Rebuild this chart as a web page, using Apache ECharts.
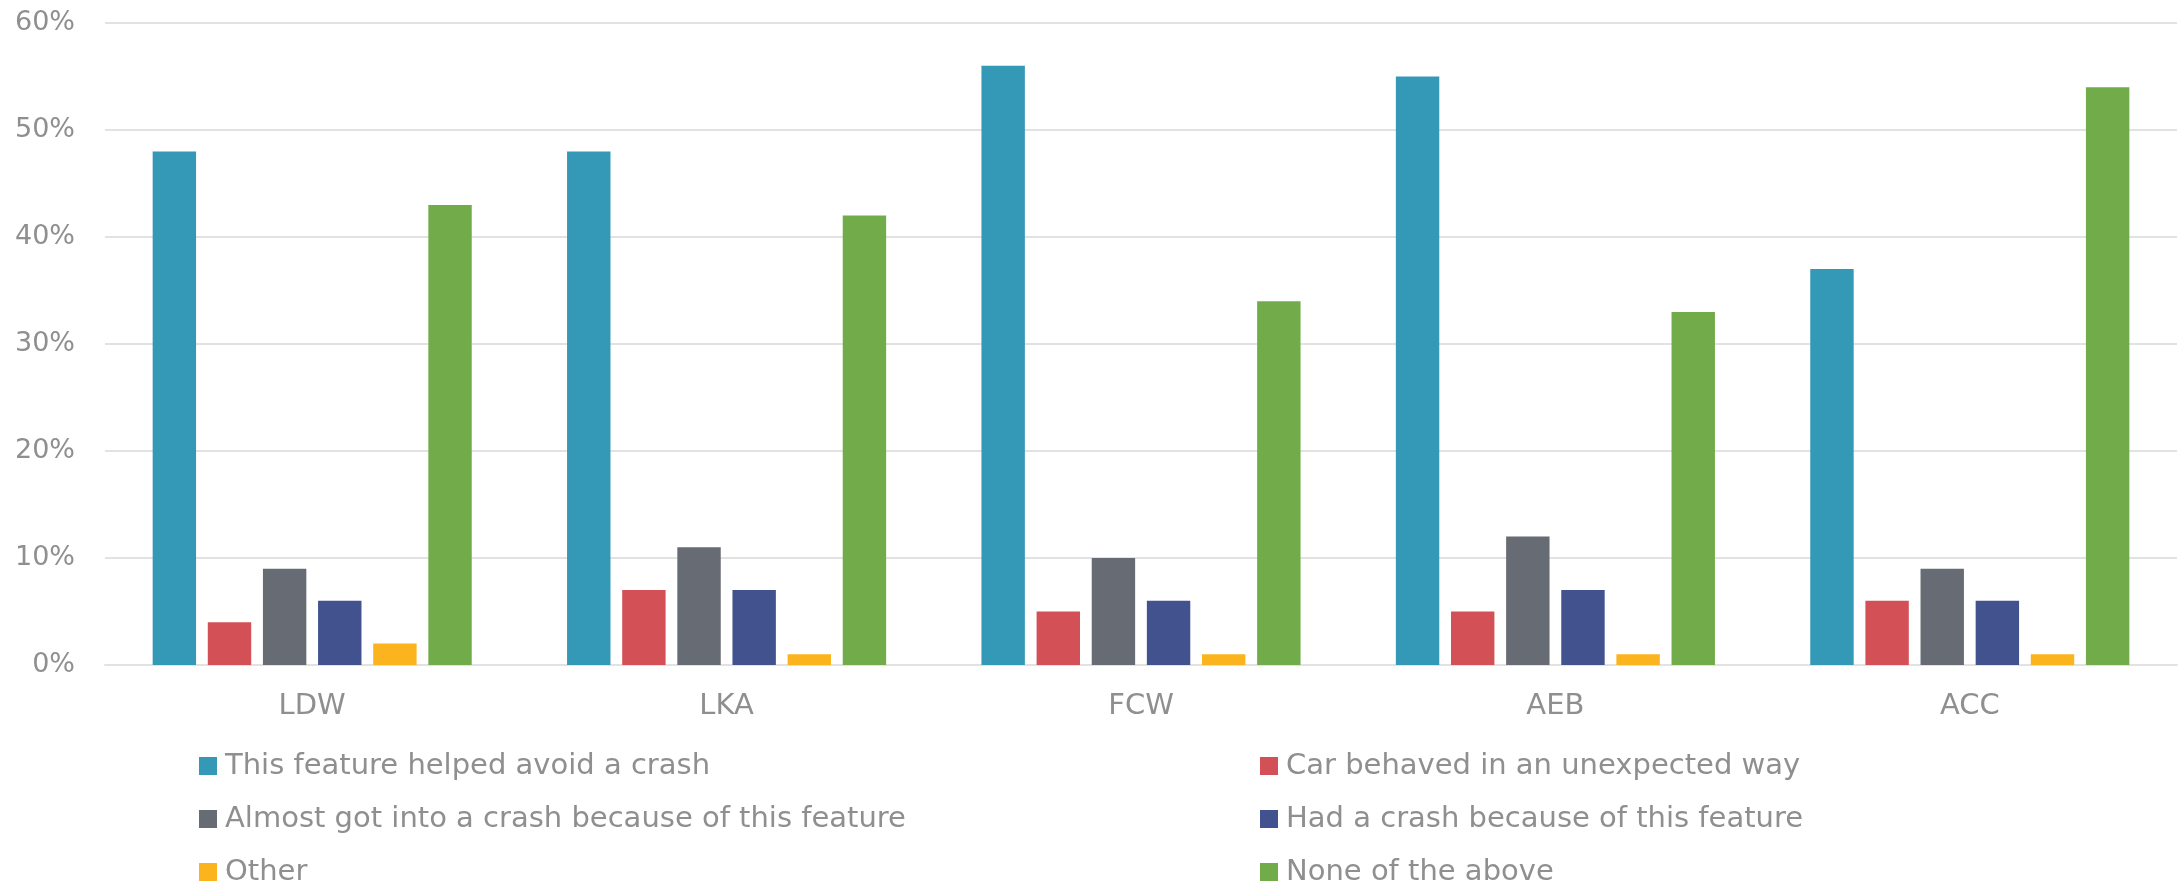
<!DOCTYPE html>
<html>
<head>
<meta charset="utf-8">
<script src="https://cdn.jsdelivr.net/npm/echarts@6/dist/echarts.min.js"></script>
<style>
  html, body { margin: 0; padding: 0; background: #fff; }
  #chart { width: 2183px; height: 884px; }
</style>
</head>
<body>
<div id="chart"></div>
<script>
const categories = ['LDW', 'LKA', 'FCW', 'AEB', 'ACC'];

const seriesNames = [
  'This feature helped avoid a crash',
  'Car behaved in an unexpected way',
  'Almost got into a crash because of this feature',
  'Had a crash because of this feature',
  'Other',
  'None of the above'
];

// values in percent, per category
const helpedAvoid = [48, 48, 56, 55, 37];
const unexpected = [4, 7, 5, 5, 6];
const almostCrash = [9, 11, 10, 12, 9];
const hadCrash = [6, 7, 6, 7, 6];
const other = [2, 1, 1, 1, 1];
const noneAbove = [43, 42, 34, 33, 54];

const yTicks = [0, 10, 20, 30, 40, 50, 60];

const colors = ['#3498b7', '#d35156', '#676b73', '#42528e', '#fbb41d', '#72ac4a'];
const textColor = '#8f8f8f';
const fontFamily = 'DejaVu Sans, sans-serif';

const chart = echarts.init(document.getElementById('chart'));

const values = [helpedAvoid, unexpected, almostCrash, hadCrash, other, noneAbove];

// legend is two columns, three rows, filled row by row
const legendCols = [199, 1260];
const legendRows = [751, 804, 857];

const legends = seriesNames.map((name, i) => ({
  data: [name],
  left: legendCols[i % 2],
  top: legendRows[Math.floor(i / 2)],
  padding: 0,
  itemWidth: 18,
  itemHeight: 18,
  icon: 'rect',
  textStyle: {
    color: textColor,
    fontSize: 29,
    fontFamily: fontFamily,
    lineHeight: 30,
    padding: [0, 0, 0, 3]
  }
}));

chart.setOption({
  animation: false,
  color: colors,
  grid: {
    left: 105,
    right: 6,
    top: 23,
    bottom: 219,
    containLabel: false
  },
  legend: legends,
  xAxis: {
    type: 'category',
    data: categories,
    axisTick: { show: false },
    axisLine: { lineStyle: { color: '#e2e2e2', width: 2 } },
    axisLabel: {
      color: textColor,
      fontSize: 29,
      fontFamily: fontFamily,
      margin: 27
    }
  },
  yAxis: {
    type: 'value',
    min: yTicks[0],
    max: yTicks[yTicks.length - 1],
    interval: 10,
    axisLine: { show: false },
    axisTick: { show: false },
    splitLine: { lineStyle: { color: '#e2e2e2', width: 2 } },
    axisLabel: {
      color: textColor,
      fontSize: 27,
      fontFamily: fontFamily,
      margin: 30,
      formatter: '{value}%'
    }
  },
  series: seriesNames.map((name, i) => ({
    name: name,
    type: 'bar',
    data: values[i],
    barGap: '27%',
    barCategoryGap: '23%',
    itemStyle: { color: colors[i] }
  }))
});
</script>
</body>
</html>
